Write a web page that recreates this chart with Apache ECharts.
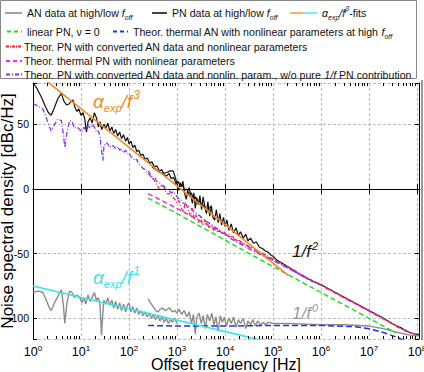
<!DOCTYPE html>
<html><head><meta charset="utf-8">
<script src="https://cdn.jsdelivr.net/npm/echarts@6.0.0/dist/echarts.min.js"></script>
<style>html,body{margin:0;padding:0;background:#fff}#c{width:424px;height:372px}</style>
</head><body><div id="c"></div>
<script>
// ---------- data (frequency in Hz, value in dBc/Hz) ----------
const anLow = [[1,-80],[1.3,-79],[1.6,-80],[1.9,-86],[2.2,-92],[2.4,-94],[2.8,-88],[3.3,-83],[3.9,-78],[4.3,-90],[4.6,-104],[5.1,-88],[5.8,-79],[6.5,-80],[7.3,-84],[8.2,-82],[9.4,-84],[10.5,-88],[11.5,-84],[12.5,-89],[14,-82],[15.5,-87],[17,-84],[19,-80],[21,-86],[23,-84],[25,-90],[26.7,-113],[28.5,-96],[30,-86],[33,-89],[36,-84],[40,-90],[44,-86],[48,-92],[53,-87],[58,-93],[64,-88],[70,-94],[77,-89],[85,-95],[93,-90],[100,-88],[110,-95],[120,-91],[132,-96],[145,-92],[160,-97],[175,-94],[195,-98],[215,-95],[240,-99],[265,-96],[295,-100],[325,-97],[360,-101],[400,-98],[440,-102],[490,-99],[540,-103],[600,-100],[660,-104],[730,-101],[800,-103],[900,-100],[1000,-104]];
const anHigh = [[250,-85],[280,-88],[320,-91],[360,-94],[400,-95],[450,-93],[500,-92],[560,-94],[630,-93],[700,-92],[800,-95],[900,-94],[1000,-96],[1100,-93],[1250,-97],[1400,-94],[1600,-99],[1800,-95],[2000,-104],[2200,-97],[2400,-112],[2600,-99],[2900,-96],[3200,-104],[3500,-98],[3900,-108],[4300,-97],[4800,-102],[5300,-96],[5900,-105],[6500,-99],[7200,-110],[8000,-98],[8800,-103],[9700,-99],[10700,-106],[12000,-100],[13500,-104],[15000,-99],[17000,-107],[19000,-101],[21000,-104],[24000,-100],[27000,-108],[30000,-102],[34000,-105],[38000,-101],[43000,-106],[48000,-102],[55000,-105],[63000,-103],[70000,-105],[80000,-103],[1e5,-104],[2e5,-104],[5e5,-104.5],[1e6,-105],[3e6,-105],[1e7,-106],[2e7,-108],[4e7,-111],[7e7,-113],[1.1e8,-113.5]];
const pnLow = [[1,82],[1.2,78],[1.5,71],[1.8,64],[2.1,59],[2.4,57],[2.8,63],[3.3,70],[3.9,74],[4.4,68],[5,65],[5.7,66],[6.8,69],[7.5,63],[8.2,60],[9,62],[10,57],[11,59],[12,54],[13,44],[14,52],[15.5,55],[17,51],[19,59],[21,55],[23,48],[25,52],[27,46],[30,50],[33,47],[36,51],[40,45],[44,48],[48,43],[53,46],[58,41],[64,44],[70,39],[77,42],[85,37],[93,40],[100,35],[110,37],[120,32],[132,34],[145,29],[160,30],[175,26],[195,27],[215,23],[240,24],[270,20],[300,21],[340,17],[380,18],[430,14],[480,15],[540,11],[600,10],[680,12],[760,8],[850,9],[950,4],[1050,6],[1170,2],[1300,3],[1450,-1],[1600,0],[1800,-4],[2000,-3],[2200,-8],[2450,-6],[2700,-11],[3000,-9],[3300,-14],[3700,-12],[4100,-18],[4600,-15],[5300,-13]];
const pnHigh = [[300,17],[360,15],[430,13],[520,12],[620,13],[720,14],[830,14],[920,9],[1000,4],[1080,-1],[1150,5],[1230,2],[1330,6],[1430,-3],[1560,-8],[1680,-1],[1800,1],[1950,-6],[2100,-11],[2250,-3],[2400,-15],[2600,-7],[2800,-12],[3000,-5],[3250,-16],[3500,-6],[3800,-14],[4100,-19],[4400,-10],[4800,-21],[5200,-13],[5600,-22],[6100,-24],[6600,-16],[7200,-26],[7800,-19],[8500,-28],[9300,-22],[1e4,-29],[1.1e4,-24],[1.2e4,-32],[1.35e4,-27],[1.5e4,-34],[1.7e4,-30],[1.9e4,-36],[2.1e4,-33],[2.4e4,-38],[2.7e4,-35],[3e4,-40],[3.4e4,-38],[3.9e4,-42],[4.5e4,-41],[5.2e4,-45],[6e4,-46],[7e4,-48],[8e4,-49],[9e4,-51],[1e5,-52],[1.2e5,-55],[1.5e5,-57],[2e5,-60],[2.5e5,-62],[3e5,-64],[4e5,-67],[5e5,-69],[7e5,-71.5],[1e6,-74],[2e6,-80],[5e6,-88],[1e7,-94],[2e7,-100],[3e7,-104],[5e7,-108],[7e7,-111],[9e7,-112],[1.1e8,-112.5]];
const fitF3 = [[1,92],[2.1e5,-67]];
const fitF1 = [[1,-75],[2e5,-121.7]];
const linearPN = [[250,-7],[1e3,-19],[1e4,-39.5],[1e5,-60],[1e6,-80],[1e7,-100],[3.5e7,-111]];
const thermalAN = [[250,-105.5],[1e3,-106],[1e4,-106],[1e5,-105.5],[1e6,-105.5],[5e6,-106.5],[1e7,-108],[2e7,-111],[4e7,-115],[6e7,-118]];
const thermalPN = [[250,-3.5],[1e3,-15],[1e4,-35],[1e5,-55],[1e6,-74.5],[1e7,-94.5],[3e7,-104],[6e7,-110],[1e8,-113]];
const pnFromAN = [[250,14],[290,11],[330,7],[380,3],[430,0],[480,3],[530,2],[580,-2],[650,-4],[720,-3],[800,-6],[900,-8],[1000,-11],[1100,-9],[1200,-14],[1350,-18],[1500,-10],[1700,-16],[1900,-21],[2100,-15],[2300,-24],[2500,-20],[2800,-26],[3100,-22],[3400,-28],[3800,-24],[4200,-27],[4700,-30],[5200,-28],[5800,-32],[6400,-30],[7000,-33],[7800,-32],[8600,-34],[9500,-33],[10500,-35],[12000,-35],[13500,-37],[15000,-37],[17000,-39],[20000,-40],[25000,-42],[30000,-44],[40000,-46],[50000,-48],[70000,-51],[1e5,-54],[2e5,-60],[5e5,-68.5],[1e6,-74],[3e6,-84],[1e7,-94],[2e7,-100],[3e7,-104],[5e7,-109],[8e7,-112]];
const pnFromANno1f = [[1,66],[1.3,64],[1.6,62],[1.9,55],[2.2,48],[2.4,45],[2.8,50],[3.3,54],[3.9,53],[4.3,42],[4.6,32],[5.1,44],[5.8,53],[6.5,52],[7.3,47],[8.2,48],[9.4,46],[10.5,44],[11.5,48],[12.5,45],[14,49],[15.5,47],[17,50],[19,48],[21,44],[23,45],[25,40],[26.7,30],[28.7,22],[30,33],[33,36],[36,35],[40,32],[44,34],[48,33],[53,31],[58,33],[64,30],[70,31],[77,28],[85,30],[93,27],[100,28],[110,25],[120,24],[132,22],[145,23],[160,19],[175,18],[195,16],[215,15],[240,12],[270,11],[300,8],[340,9],[380,6],[430,5],[480,3],[540,2],[600,0],[680,-1],[760,-3],[850,-2],[950,-5],[1050,-7],[1200,-8],[1350,-11],[1550,-12],[1800,-14],[2100,-16],[2400,-18],[2800,-20],[3300,-22],[4000,-25],[5000,-27],[6500,-30],[8000,-33],[1e4,-35],[1.4e4,-39],[2e4,-42],[3e4,-46],[5e4,-50],[1e5,-55],[2e5,-61],[4e5,-67],[7e5,-72]];
// axis ticks
const xMin = 1, xMax = 1.1e8, yMin = -116, yMax = 82;
const yTickValues = [-100, -50, 0, 50];
const minorMantissas = [2,3,4,5,6,7,8,9];
const minorDecades = [0,1,2,3,4,5,6,7];
const minorTicks = [];
minorDecades.forEach(d => minorMantissas.forEach(m => minorTicks.push([m * Math.pow(10, d), 0])));

const FONT = 'Liberation Sans, Arial, Helvetica, sans-serif';
const C = {gray:'#8c8c8c', black:'#111', orange:'#f08a24', cyan:'#35e4ee', green:'#22dd22', blue:'#1a33ee', red:'#ee2222', magenta:'#ff22ee', purple:'#8833ee'};

function line(name, data, color, width, dash, z) {
  return {type:'line', name, data, showSymbol:false, symbol:'none', clip:true, z: z || 2,
    lineStyle:{color, width, type: dash || 'solid'}, emphasis:{disabled:true}};
}

const legRich = {
  i:{fontStyle:'italic', fontSize:10.6, fontFamily:FONT, lineHeight:16},
  sub:{fontStyle:'italic', fontSize:7, fontFamily:FONT, lineHeight:7, verticalAlign:'bottom'},
  sup:{fontStyle:'italic', fontSize:7, fontFamily:FONT, lineHeight:7, verticalAlign:'top'}
};
function legText(x, y, text) {
  return {type:'text', x, y, silent:true, style:{text, rich:legRich, fontSize:10.6, fontFamily:FONT, fill:'#111', verticalAlign:'middle', align:'left', lineHeight:16}};
}
function legLine(x1, x2, y, color, dash) {
  return {type:'line', silent:true, shape:{x1, y1:y, x2, y2:y}, style:{stroke:color, lineWidth:2, lineDash: dash || null}};
}
const annRich = (color, fs) => ({
  a:{fontStyle:'italic', fontSize:fs, fontFamily:FONT, fill:color, lineHeight:fs+5},
  b:{fontStyle:'italic', fontSize:Math.round(fs*0.58), fontFamily:FONT, fill:color, lineHeight:Math.round(fs*0.55), verticalAlign:'bottom'},
  c:{fontStyle:'italic', fontSize:Math.round(fs*0.62), fontFamily:FONT, fill:color, lineHeight:Math.round(fs*0.55), verticalAlign:'top', padding:[0,0,0,1]}
});
function ann(x, y, text, color, fs) {
  return {type:'text', x, y, silent:true, z:100, style:{text, rich:annRich(color, fs), fill:color, verticalAlign:'middle', align:'left'}};
}

const chart = echarts.init(document.getElementById('c'), null, {renderer:'svg'});
const option = {
  animation:false,
  backgroundColor:'#fff',
  grid:{left:33, right:5, top:83, bottom:33, containLabel:false, outerBoundsMode:'none'},
  xAxis:[
    {type:'log', logBase:10, min:xMin, max:xMax, interval:1, position:'bottom',
     name:'Offset frequency [Hz]', nameLocation:'middle', nameGap:17, nameMoveOverlap:false,
     nameTextStyle:{fontSize:16, fontFamily:FONT, color:'#000', verticalAlign:'top'},
     axisLine:{show:true, lineStyle:{color:'#000', width:1}},
     axisTick:{show:true, inside:true, length:5, lineStyle:{color:'#000'}},
     splitLine:{show:true, lineStyle:{color:'#bdbdbd', type:[3,2], width:1}},
     axisLabel:{margin:5, color:'#000',
       formatter: v => { const l = Math.log10(v), n = Math.round(l); return Math.abs(l - n) < 1e-6 ? '{b|10}{s|' + n + '}' : ''; },
       rich:{b:{fontSize:12.5, fontFamily:FONT, color:'#000', lineHeight:16}, s:{fontSize:8, fontFamily:FONT, color:'#000', lineHeight:8, verticalAlign:'top'}}}},
    {type:'log', logBase:10, min:xMin, max:xMax, interval:1, position:'top',
     axisLine:{show:true, lineStyle:{color:'#000', width:1}},
     axisTick:{show:true, inside:true, length:5, lineStyle:{color:'#000'}},
     axisLabel:{show:false}, splitLine:{show:false}}
  ],
  yAxis:[
    {type:'value', min:yMin, max:yMax, splitNumber:4, position:'left',
     name:'Noise spectral density [dBc/Hz]', nameLocation:'middle', nameRotate:90, nameGap:17, nameMoveOverlap:false,
     nameTextStyle:{fontSize:17, fontFamily:FONT, color:'#000'},
     axisLine:{show:true, lineStyle:{color:'#000', width:1}},
     axisTick:{show:true, inside:true, length:4, lineStyle:{color:'#000'}},
     splitLine:{show:true, lineStyle:{color:'#bdbdbd', type:[3,2], width:1}},
     axisLabel:{show:true, margin:4, color:'#000', fontSize:10.5,
       formatter: v => (yTickValues.indexOf(v) >= 0 ? String(v) : '')}},
    {type:'value', min:yMin, max:yMax, splitNumber:4, position:'right',
     axisLine:{show:true, lineStyle:{color:'#000', width:1}},
     axisTick:{show:true, inside:true, length:4, lineStyle:{color:'#000'}},
     axisLabel:{show:false}, splitLine:{show:false}}
  ],
  series:[
    {type:'custom', name:'minorTicks', silent:true, clip:false, data:minorTicks, z:5,
     renderItem:(params, api) => {
       const cs = params.coordSys;
       const x = Math.round(api.coord([api.value(0), 0])[0]) + 0.5;
       const b = cs.y + cs.height, t = cs.y;
       return {type:'group', children:[
         {type:'line', shape:{x1:x, y1:b, x2:x, y2:b-3}, style:{stroke:'#000', lineWidth:1}},
         {type:'line', shape:{x1:x, y1:t, x2:x, y2:t+3}, style:{stroke:'#000', lineWidth:1}}
       ]};
     }},
    line('AN data low', anLow, C.gray, 1.4),
    line('AN data high', anHigh, C.gray, 1.4),
    line('PN data low', pnLow, C.black, 1.2),
    line('PN data high', pnHigh, C.black, 1.2),
    line('linear PN', linearPN, C.green, 1.5, [5,3], 3),
    line('thermal AN', thermalAN, C.blue, 1.5, [6,3], 3),
    line('thermal PN', thermalPN, C.magenta, 1.5, [5,3], 3),
    line('PN from AN', pnFromAN, C.red, 1.2, [4,2,1,2], 3),
    line('PN from AN w/o 1/f', pnFromANno1f, C.purple, 1.3, [5,2,1,2], 3),
    line('fit f3', fitF3, C.orange, 1.6, 'solid', 4),
    line('fit f1', fitF1, C.cyan, 1.6, 'solid', 4)
  ],
  graphic:[
    {type:'rect', silent:true, shape:{x:0.5, y:0.5, width:416, height:78}, style:{fill:'#fff', stroke:'#888', lineWidth:1}},
    legLine(5, 22, 13, '#a0a0a0'), legText(27, 13, 'AN data at high/low {i|f}{sub|off}'),
    legLine(152, 167, 13, '#444'), legText(172, 13, 'PN data at high/low {i|f}{sub|off}'),
    legLine(290, 303, 13, '#f5b070'), legLine(303, 317, 13, '#7ef0f4'),
    legText(322, 13, '{i|α}{sub|exp}{i|/f}{sup|β}-fits'),
    legLine(7, 22, 31.5, C.green, [4,3]), legText(27, 31.5, 'linear PN, ν = 0'),
    legLine(113, 128, 31.5, C.blue, [4,3]), legText(133, 31.5, 'Theor. thermal AN with nonlinear parameters at high {i|f}{sub|off}'),
    legLine(6, 22, 46.5, C.red, [3,1,1,1]), legText(24, 46.5, 'Theor. PN with converted AN data and nonlinear parameters'),
    legLine(6, 22, 61, C.magenta, [4,3]), legText(24, 61, 'Theor. thermal PN with nonlinear parameters'),
    legLine(6, 22, 74.5, C.purple, [4,2,1,2]), legText(24, 74.5, 'Theor. PN with converted AN data and nonlin. param., w/o pure {i|1/f} PN contribution'),
    {type:'line', silent:true, shape:{x1:422, y1:80, x2:422, y2:340}, style:{stroke:'#9a9a9a', lineWidth:2}},
    ann(93, 101, '{a|α}{b|exp}{a|/f}{c|3}', C.orange, 19),
    ann(93, 277, '{a|α}{b|exp}{a|/f}{c|1}', C.cyan, 19),
    ann(292, 251, '{a|1/f}{c|2}', '#111', 17),
    ann(292, 313, '{a|1/f}{c|0}', '#999', 17)
  ]
};
chart.setOption(option);
</script>
</body></html>
